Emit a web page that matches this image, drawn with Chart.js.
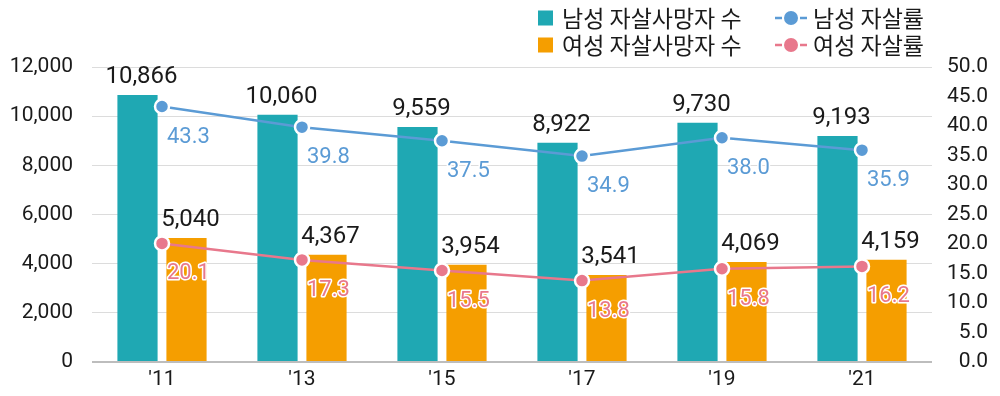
<!DOCTYPE html>
<html>
<head>
<meta charset="utf-8">
<script src="https://cdn.jsdelivr.net/npm/chart.js@4/dist/chart.umd.min.js"></script>
<style>
  html, body { margin: 0; padding: 0; background: #fff; }
  #wrap { width: 1000px; height: 396px; }
</style>
</head>
<body>
<div id="wrap"><canvas id="chart"></canvas></div>
<script>
// data
const years = ["'11", "'13", "'15", "'17", "'19", "'21"];
const maleDeaths = [10866, 10060, 9559, 8922, 9730, 9193];
const femaleDeaths = [5040, 4367, 3954, 3541, 4069, 4159];
const maleRate = [43.3, 39.8, 37.5, 34.9, 38.0, 35.9];
const femaleRate = [20.1, 17.3, 15.5, 13.8, 15.8, 16.2];

const TEAL = '#1fa8b3';
const ORANGE = '#f59e00';
const BLUE = '#5b9bd5';
const PINK = '#e8788c';
const FONT = 'Roboto, "Noto Sans CJK KR", sans-serif';
const KFONT = '"Noto Sans CJK KR", Roboto, sans-serif';

// value labels above bars / under the points
const valueLabels = {
    id: 'valueLabels',
    afterDatasetsDraw(chart) {
        const ctx = chart.ctx;
        ctx.save();
        chart.data.datasets.forEach((ds, i) => {
            const meta = chart.getDatasetMeta(i);
            meta.data.forEach((el, j) => {
                const v = ds.data[j];
                ctx.textBaseline = 'alphabetic';
                if (ds.type === 'bar') {
                    ctx.font = '24px ' + FONT;
                    ctx.fillStyle = '#1a1a1a';
                    ctx.textAlign = 'center';
                    ctx.fillText(v.toLocaleString('en-US'), el.x + 4, el.y - 12);
                } else {
                    ctx.font = '22px ' + FONT;
                    ctx.textAlign = 'left';
                    ctx.lineJoin = 'round';
                    ctx.lineWidth = 3;
                    ctx.strokeStyle = '#fff';
                    ctx.strokeText(v.toFixed(1), el.x + 5, el.y + 36);
                    ctx.fillStyle = ds.borderColor;
                    ctx.fillText(v.toFixed(1), el.x + 5, el.y + 36);
                }
            });
        });
        ctx.restore();
    }
};

// 2 x 2 legend in the top right corner
const legendBox = {
    id: 'legendBox',
    afterDraw(chart) {
        const ctx = chart.ctx;
        const items = [
            { x: 538, y: 18, kind: 'box', color: TEAL, text: '남성 자살사망자 수' },
            { x: 775, y: 18, kind: 'line', color: BLUE, text: '남성 자살률' },
            { x: 538, y: 45, kind: 'box', color: ORANGE, text: '여성 자살사망자 수' },
            { x: 775, y: 45, kind: 'line', color: PINK, text: '여성 자살률' }
        ];
        ctx.save();
        ctx.font = '23px ' + KFONT;
        ctx.textBaseline = 'middle';
        ctx.textAlign = 'left';
        items.forEach(it => {
            if (it.kind === 'box') {
                ctx.fillStyle = it.color;
                ctx.fillRect(it.x, it.y - 7.5, 15, 15);
                ctx.fillStyle = '#1a1a1a';
                ctx.fillText(it.text, it.x + 24, it.y);
            } else {
                ctx.strokeStyle = it.color;
                ctx.lineWidth = 2.5;
                ctx.beginPath();
                ctx.moveTo(it.x, it.y); ctx.lineTo(it.x + 7, it.y);
                ctx.moveTo(it.x + 25, it.y); ctx.lineTo(it.x + 32, it.y);
                ctx.stroke();
                ctx.beginPath();
                ctx.arc(it.x + 16, it.y, 7, 0, Math.PI * 2);
                ctx.fillStyle = it.color;
                ctx.fill();
                ctx.fillStyle = '#1a1a1a';
                ctx.fillText(it.text, it.x + 38, it.y);
            }
        });
        ctx.restore();
    }
};

new Chart(document.getElementById('chart'), {
    type: 'bar',
    data: {
        labels: years,
        datasets: [
            { type: 'line', label: '남성 자살률', data: maleRate, yAxisID: 'y2', order: 0,
              borderColor: BLUE, backgroundColor: BLUE, borderWidth: 2.5,
              pointRadius: 7, pointBorderWidth: 2.5, pointBorderColor: '#fff', pointBackgroundColor: BLUE },
            { type: 'line', label: '여성 자살률', data: femaleRate, yAxisID: 'y2', order: 0,
              borderColor: PINK, backgroundColor: PINK, borderWidth: 2.5,
              pointRadius: 7, pointBorderWidth: 2.5, pointBorderColor: '#fff', pointBackgroundColor: PINK },
            { type: 'bar', label: '남성 자살사망자 수', data: maleDeaths, yAxisID: 'y', order: 1,
              backgroundColor: TEAL, categoryPercentage: 0.7, barPercentage: 0.82 },
            { type: 'bar', label: '여성 자살사망자 수', data: femaleDeaths, yAxisID: 'y', order: 1,
              backgroundColor: ORANGE, categoryPercentage: 0.7, barPercentage: 0.82 }
        ]
    },
    options: {
        responsive: true,
        maintainAspectRatio: false,
        animation: false,
        layout: { padding: { top: 67, left: 0, right: 12, bottom: 0 } },
        plugins: {
            legend: { display: false },
            tooltip: { enabled: false }
        },
        scales: {
            x: {
                grid: { display: false, drawTicks: false },
                border: { display: false },
                ticks: { color: '#1a1a1a', font: { family: FONT, size: 21 }, padding: 5 },
                afterFit: s => { s.height = 34; }
            },
            y: {
                position: 'left',
                min: 0, max: 12000,
                ticks: { stepSize: 2000, color: '#1a1a1a', font: { family: FONT, size: 21 }, padding: 19,
                         callback: v => v.toLocaleString('en-US') },
                grid: { drawTicks: false,
                        color: c => c.tick.value === 0 ? '#bdbdbd' : '#dcdcdc',
                        lineWidth: c => c.tick.value === 0 ? 2 : 1 },
                border: { display: false },
                afterFit: s => { s.width = 92; }
            },
            y2: {
                position: 'right',
                min: 0, max: 50,
                ticks: { stepSize: 5, color: '#1a1a1a', font: { family: FONT, size: 21 }, padding: 16,
                         crossAlign: 'far', callback: v => v.toFixed(1) },
                grid: { display: false, drawTicks: false },
                border: { display: false },
                afterFit: s => { s.width = 56; }
            }
        }
    },
    plugins: [valueLabels, legendBox]
});
</script>
</body>
</html>
